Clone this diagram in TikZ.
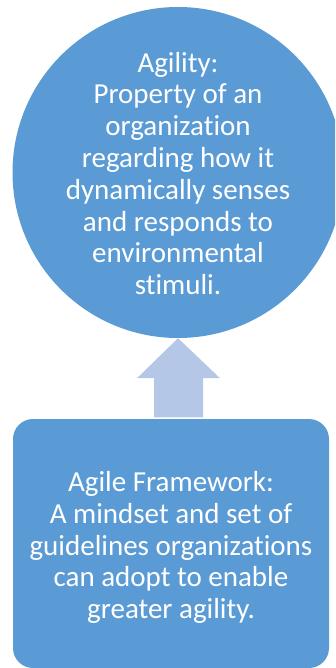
\documentclass[tikz,border=0pt]{standalone}
\usepackage{fontspec}
\setmainfont{Carlito}[Ligatures=NoCommon]
\usetikzlibrary{calc}
\definecolor{boxblue}{HTML}{5B9BD5}
\definecolor{arrowblue}{HTML}{B4C7E7}
\tikzset{
  shapefill/.style={fill=boxblue, draw=none},
  bodytext/.style={text=white, align=center, inner sep=0pt,
    font=\fontsize{29}{31.8}\selectfont},
}
\begin{document}
\begin{tikzpicture}[x=1pt,y=-1pt]
\useasboundingbox (0,0) rectangle (335,668);
\clip (0,0) rectangle (335,668);
\node[shapefill, circle, minimum size=331pt, inner sep=0pt] (agility) at (178,172.5) {};
\node[bodytext] (agilitytext) at ($(agility.center)+(0,1)$) {Agility:\\Property of an\\organization\\regarding how it\\dynamically senses\\and responds to\\environmental\\stimuli.};
\node[shapefill, rectangle, rounded corners=20pt, minimum width=316pt, minimum height=249pt, inner sep=0pt] (framework) at (171,543.5) {};
\node[bodytext] (frameworktext) at ($(framework.center)+(0,4)$) {Agile Framework:\\A mindset and set of\\guidelines organizations\\can adopt to enable\\greater agility.};
\coordinate (base) at (agility.south |- framework.north);
\fill[arrowblue] (agility.south) -- ++(42,40) -- ++(-17,0) -- ($(base)+(25,-1.5)$) -- ($(base)+(-24,-1.5)$) -- ($(agility.south)+(-24,40)$) -- ++(-17,0) -- cycle;
\end{tikzpicture}
\end{document}
